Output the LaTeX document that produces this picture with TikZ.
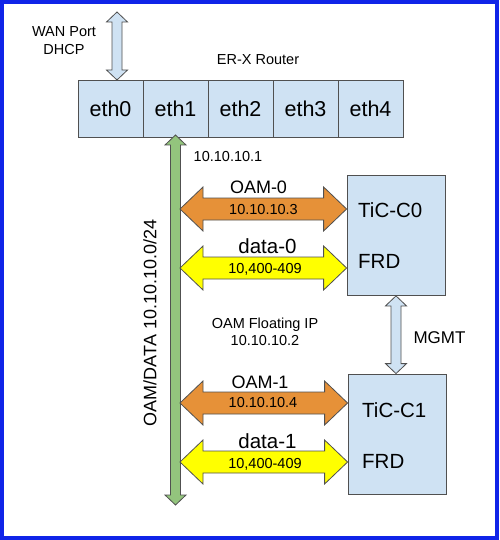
\documentclass[tikz,border=0pt]{standalone}
\usepackage{fontspec}
\setmainfont{Liberation Sans}
\usetikzlibrary{calc, positioning}
\definecolor{portblue}{RGB}{207,226,243}
\definecolor{langreen}{RGB}{147,196,125}
\definecolor{oamorange}{RGB}{230,145,56}
\definecolor{datayellow}{RGB}{255,255,0}
\definecolor{edgegray}{RGB}{80,80,80}
\definecolor{framblue}{RGB}{16,36,232}
\newcommand{\fs}[1]{\fontsize{#1}{#1}\selectfont}

\begin{document}
\begin{tikzpicture}[x=1pt, y=-1pt,
  port/.style={draw=edgegray, fill=portblue, line width=0.8pt, outer sep=0pt, minimum width=65pt, minimum height=57pt, font=\fs{21.5}},
  tic/.style={draw=edgegray, fill=portblue, line width=0.8pt, minimum width=98pt, minimum height=120pt},
  hdbl/.style={draw=edgegray, line width=0.8pt, line join=miter, to path={let \p1=(\tikztostart), \p2=(\tikztotarget) in
    (\x1,\y1) -- (\x1+23pt,\y1+22pt) -- (\x1+23pt,\y1+11pt) -- (\x2-23pt,\y1+11pt) -- (\x2-23pt,\y1+22pt) -- (\x2,\y1)
    -- (\x2-23pt,\y1-22pt) -- (\x2-23pt,\y1-11pt) -- (\x1+23pt,\y1-11pt) -- (\x1+23pt,\y1-22pt) -- cycle}},
  vdbl/.style={draw=edgegray, line width=0.8pt, line join=miter, to path={let \p1=(\tikztostart), \p2=(\tikztotarget) in
    (\x1,\y1) -- (\x1+10.5pt,\y1-10pt) -- (\x1+5pt,\y1-10pt) -- (\x1+5pt,\y2+10pt) -- (\x1+10.5pt,\y2+10pt) -- (\x1,\y2)
    -- (\x1-10.5pt,\y2+10pt) -- (\x1-5pt,\y2+10pt) -- (\x1-5pt,\y1-10pt) -- (\x1-10.5pt,\y1-10pt) -- cycle}},
  lbl/.style={font=\fs{14.5}, inner sep=0pt},
  biglbl/.style={font=\fs{18}, inner sep=0pt},
  boxtxt/.style={font=\fs{20.5}, anchor=west, inner sep=0pt}]
\useasboundingbox (0,0) rectangle (499,540);
\fill[white] (0,0) rectangle (499,540);
% router ports
\node[port, anchor=north west] (eth0) at (78,80) {eth0};
\foreach \i [count=\j from 0] in {1,...,4}
  \node[port, right=0pt of eth\j] (eth\i) {eth\i};
\node[lbl] (router) at (258,60) {ER-X Router};
% wan uplink
\coordinate (wantop) at (117,12);
\draw[vdbl, fill=portblue] (wantop) to (wantop |- eth0.north);
\node[lbl, align=center] (wan) at (64,41) {WAN Port\\[3.5pt]DHCP};
% the two controllers
\node[tic] (c0) at (396,235.5) {};
\node[tic] (c1) at (397,434) {};
\node[boxtxt] (c0name) at (358,210.5) {TiC-C0};
\node[boxtxt] (c0frd) at (358,261.5) {FRD};
\node[boxtxt] (c1name) at (362,410.5) {TiC-C1};
\node[boxtxt] (c1frd) at (362,461.5) {FRD};
\draw[vdbl, fill=portblue] (c0.south) to (c1.north);
\node[font=\fs{17}, inner sep=0pt] (mgmt) at (439.5,338) {MGMT};
% lan bus
\coordinate (lanend) at (eth1.south |- 0,505);
\draw[vdbl, fill=langreen] ([yshift=2pt]eth1.south) to (lanend);
\node[biglbl, rotate=90] (subnet) at (150,323) {OAM/DATA 10.10.10.0/24};
\node[lbl] (gw) at (228,157) {10.10.10.1};
\node[lbl, align=center] (float) at (265,332) {OAM Floating IP\\[3pt]10.10.10.2};
% links to the controllers
\coordinate (oam0) at (180,209);
\coordinate (data0) at (180,268);
\coordinate (oam1) at (180,403);
\coordinate (data1) at (180,462);
\draw[hdbl, fill=oamorange] (oam0) to (c0.west |- oam0);
\draw[hdbl, fill=datayellow] (data0) to (c0.west |- data0);
\draw[hdbl, fill=oamorange] (oam1) to (c1.west |- oam1);
\draw[hdbl, fill=datayellow] (data1) to (c1.west |- data1);
\node[biglbl] (oam0lbl) at (258.5,187) {OAM-0};
\node[lbl] (oam0ip) at (263.5,210) {10.10.10.3};
\node[font=\fs{20.5}, inner sep=0pt] (data0lbl) at (267.5,246.5) {data-0};
\node[lbl, text depth=0pt] (data0vl) at (265,268) {10,400-409};
\node[biglbl] (oam1lbl) at (260,382.5) {OAM-1};
\node[lbl] (oam1ip) at (263,403) {10.10.10.4};
\node[font=\fs{20.5}, inner sep=0pt] (data1lbl) at (267.5,441) {data-1};
\node[lbl, text depth=0pt] (data1vl) at (265,463) {10,400-409};
% frame
\draw[framblue, line width=4pt] (2,2) rectangle (497,538);
\end{tikzpicture}
\end{document}
